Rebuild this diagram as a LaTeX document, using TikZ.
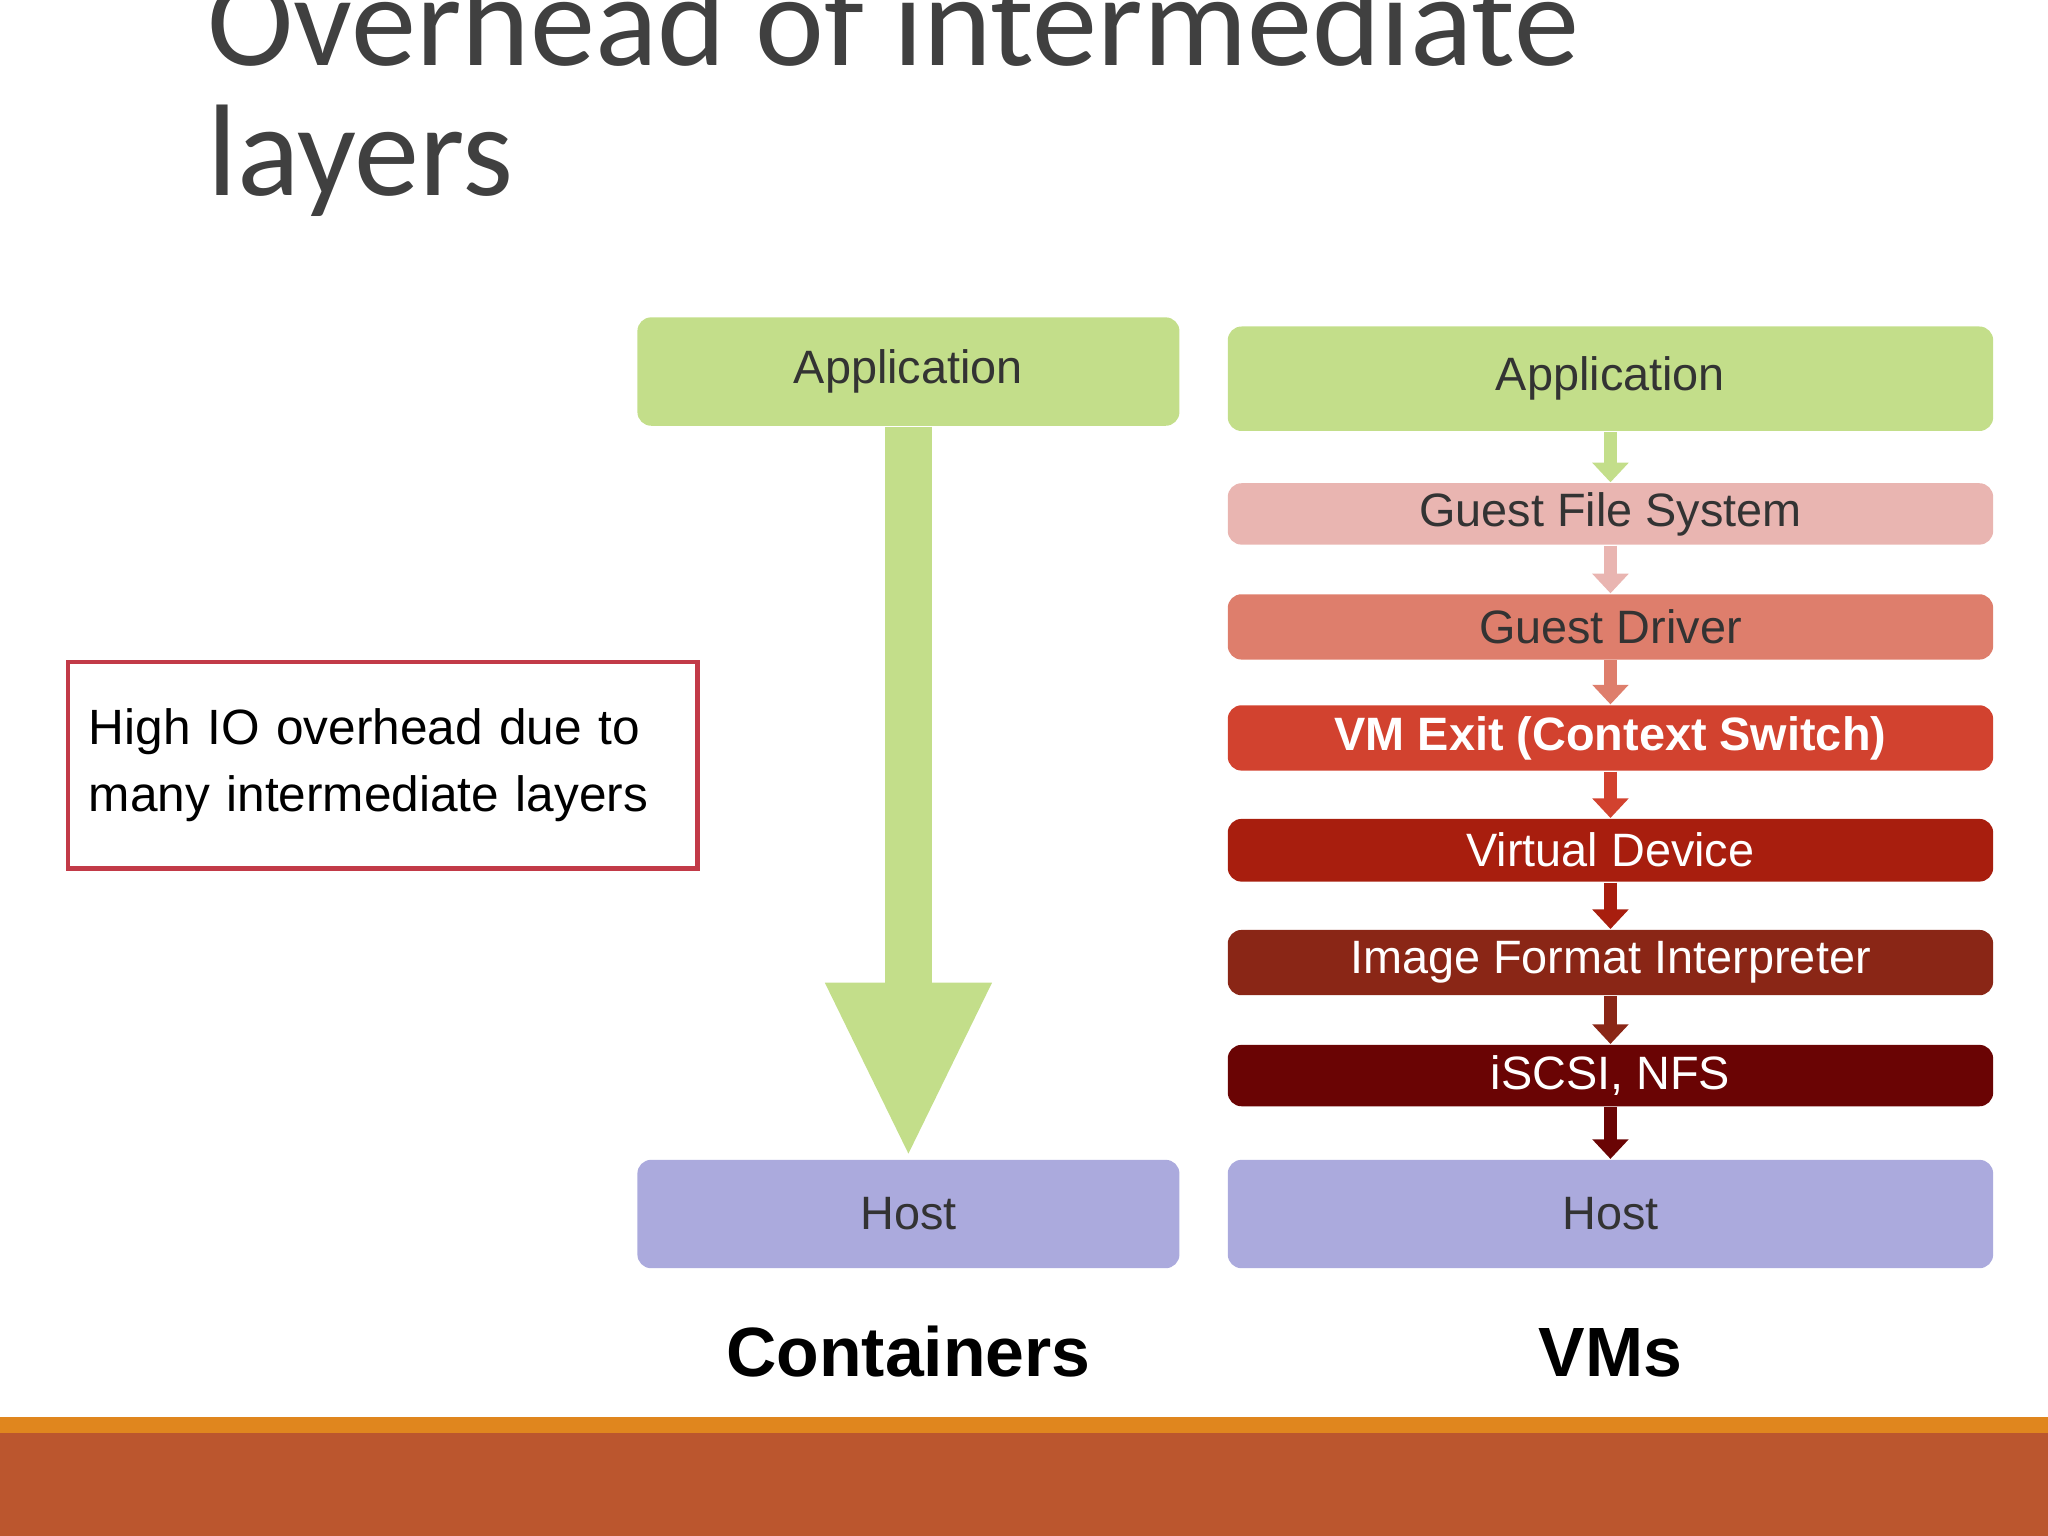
\documentclass[tikz,border=0pt]{standalone}
\usepackage{fontspec}
\setmainfont{Liberation Sans}
\newfontfamily\titlefont{Carlito}
\usetikzlibrary{arrows.meta}
\definecolor{appgreen}{HTML}{C3DE8A}
\definecolor{hostblue}{HTML}{ABAADD}
\definecolor{gfscol}{HTML}{E9B5B1}
\definecolor{gdcol}{HTML}{DE7E6C}
\definecolor{vmecol}{HTML}{D2422F}
\definecolor{vdcol}{HTML}{A81E0E}
\definecolor{ificol}{HTML}{8A2616}
\definecolor{nfscol}{HTML}{6A0404}
\definecolor{titlegray}{HTML}{404040}
\definecolor{barorange}{HTML}{E0861E}
\definecolor{barrust}{HTML}{BB562E}
\definecolor{boxred}{HTML}{C23A48}
\begin{document}
\begin{tikzpicture}[
    layer/.style={rounded corners=3pt,inner sep=0pt,font=\fontsize{10.2}{12}\selectfont,text=black!80},
    wlayer/.style={layer,text=white},
    big/.style={font=\fontsize{15.2}{18}\selectfont\bfseries},
    iostep/.style={line width=0.1cm,-{Triangle[width=0.27cm,length=0.15cm]}}]
  \useasboundingbox (0,0) rectangle (15.68,11.76);
  % bottom bars
  \fill[barrust] (0,0) rectangle (15.68,0.79);
  \fill[barorange] (0,0.79) rectangle (15.68,0.91);
  % title
  \node[anchor=base west,inner sep=0pt,text=titlegray,font=\fontsize{28.4}{30}\selectfont\titlefont] (title1) at (1.58,11.26) {Overhead of intermediate};
  \node[anchor=base west,inner sep=0pt,text=titlegray,font=\fontsize{28.4}{30}\selectfont\titlefont] (title2) at (1.58,10.26) {layers};
  % note box
  \node[draw=boxred,line width=1pt,fill=white,minimum width=4.8cm,minimum height=1.58cm,align=left,
        font=\fontsize{10.8}{14.6}\selectfont,text width=4.5cm,inner sep=0.16cm] (note) at (2.93,5.9)
        {High IO overhead due to\\many intermediate layers};
  % containers column
  \node[layer,fill=appgreen,minimum width=4.15cm,minimum height=0.83cm] (capp) at (6.955,8.915) {Application};
  \node[layer,fill=hostblue,minimum width=4.15cm,minimum height=0.83cm] (chost) at (6.955,2.465) {Host};
  \draw[appgreen,line width=0.36cm,-{Triangle[width=1.17cm,length=1.35cm]}] (capp.south) -- (chost.north);
  \node[big] (clabel) at (6.955,1.41) {Containers};
  % VMs column
  \node[layer,fill=appgreen,minimum width=5.86cm,minimum height=0.8cm] (vapp) at (12.33,8.86) {Application};
  \node[layer,fill=gfscol,minimum width=5.86cm,minimum height=0.47cm] (gfs) at (12.33,7.825) {Guest File System};
  \node[layer,fill=gdcol,minimum width=5.86cm,minimum height=0.5cm] (gd) at (12.33,6.96) {Guest Driver};
  \node[wlayer,fill=vmecol,minimum width=5.86cm,minimum height=0.5cm,font=\fontsize{10.2}{12}\selectfont\bfseries] (vme) at (12.33,6.11) {VM Exit (Context Switch)};
  \node[wlayer,fill=vdcol,minimum width=5.86cm,minimum height=0.48cm] (vd) at (12.33,5.25) {Virtual Device};
  \node[wlayer,fill=ificol,minimum width=5.86cm,minimum height=0.5cm] (ifi) at (12.33,4.39) {Image Format Interpreter};
  \node[wlayer,fill=nfscol,minimum width=5.86cm,minimum height=0.47cm] (nfs) at (12.33,3.525) {iSCSI, NFS};
  \node[layer,fill=hostblue,minimum width=5.86cm,minimum height=0.83cm] (vhost) at (12.33,2.465) {Host};
  \draw[iostep,appgreen] (vapp) -- (gfs);
  \draw[iostep,gfscol] (gfs) -- (gd);
  \draw[iostep,gdcol] (gd) -- (vme);
  \draw[iostep,vmecol] (vme) -- (vd);
  \draw[iostep,vdcol] (vd) -- (ifi);
  \draw[iostep,ificol] (ifi) -- (nfs);
  \draw[iostep,nfscol] (nfs) -- (vhost);
  \node[big] (vlabel) at (12.33,1.4) {VMs};
\end{tikzpicture}
\end{document}
